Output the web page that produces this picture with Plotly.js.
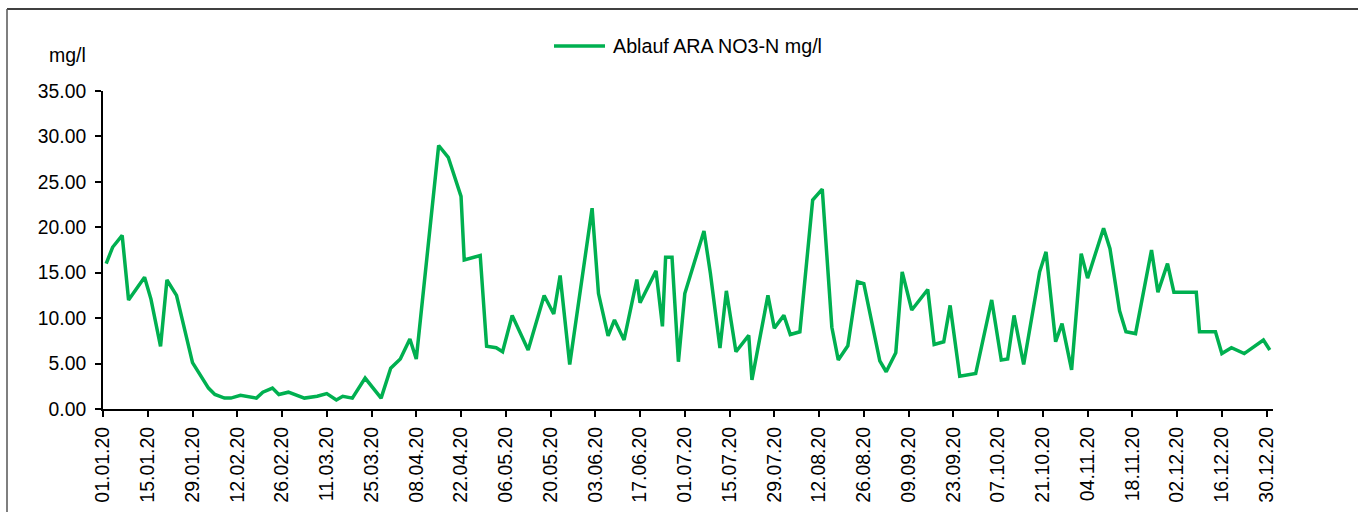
<!DOCTYPE html>
<html>
<head>
<meta charset="utf-8">
<script src="https://cdn.plot.ly/plotly-3.0.1.min.js"></script>
<style>
html,body{margin:0;padding:0;background:#fff;}
#chart{width:1358px;height:512px;}
</style>
</head>
<body>
<div id="chart"></div>
<script>
// Sampling dates (2020)
const dates = [
 "2020-01-02","2020-01-04","2020-01-07","2020-01-09","2020-01-14","2020-01-16","2020-01-19","2020-01-21","2020-01-24","2020-01-29",
 "2020-02-03","2020-02-05","2020-02-08","2020-02-10","2020-02-13","2020-02-18","2020-02-20","2020-02-23","2020-02-25","2020-02-28",
 "2020-03-04","2020-03-08","2020-03-11","2020-03-14","2020-03-16","2020-03-19","2020-03-23","2020-03-28","2020-03-31",
 "2020-04-03","2020-04-06","2020-04-08","2020-04-15","2020-04-18","2020-04-22","2020-04-23","2020-04-28","2020-04-30",
 "2020-05-03","2020-05-05","2020-05-08","2020-05-13","2020-05-18","2020-05-21","2020-05-23","2020-05-26",
 "2020-06-02","2020-06-04","2020-06-07","2020-06-09","2020-06-12","2020-06-16","2020-06-17","2020-06-22","2020-06-24","2020-06-25","2020-06-27","2020-06-29",
 "2020-07-01","2020-07-07","2020-07-09","2020-07-12","2020-07-14","2020-07-17","2020-07-21","2020-07-22","2020-07-27","2020-07-29",
 "2020-08-01","2020-08-03","2020-08-06","2020-08-10","2020-08-13","2020-08-16","2020-08-18","2020-08-21","2020-08-24","2020-08-26","2020-08-31",
 "2020-09-02","2020-09-05","2020-09-07","2020-09-10","2020-09-15","2020-09-17","2020-09-20","2020-09-22","2020-09-25","2020-09-30",
 "2020-10-05","2020-10-08","2020-10-10","2020-10-12","2020-10-15","2020-10-20","2020-10-22","2020-10-25","2020-10-27","2020-10-30",
 "2020-11-02","2020-11-04","2020-11-09","2020-11-11","2020-11-14","2020-11-16","2020-11-19","2020-11-24","2020-11-26","2020-11-29",
 "2020-12-01","2020-12-08","2020-12-09","2020-12-14","2020-12-16","2020-12-19","2020-12-23","2020-12-29","2020-12-31"
];
// Ablauf ARA NO3-N (mg/l)
const no3n = [
 16.0,17.8,19.1,12.0,14.5,12.1,6.9,14.2,12.5,5.1,
 2.3,1.6,1.2,1.2,1.5,1.2,1.85,2.3,1.6,1.85,
 1.2,1.4,1.7,1.0,1.4,1.2,3.4,1.2,4.5,
 5.5,7.7,5.5,29.0,27.7,23.4,16.4,16.9,6.9,
 6.75,6.3,10.3,6.5,12.5,10.45,14.7,4.9,
 22.1,12.7,8.05,9.8,7.6,14.25,11.7,15.2,9.1,16.7,16.7,5.2,
 12.7,19.6,14.95,6.7,13.0,6.3,8.1,3.2,12.5,8.9,
 10.3,8.2,8.5,23.0,24.2,9.0,5.4,6.95,14.0,13.8,5.3,
 4.1,6.2,15.1,10.9,13.15,7.1,7.4,11.4,3.6,3.9,
 12.0,5.4,5.5,10.3,4.9,15.1,17.3,7.4,9.4,4.3,
 17.1,14.4,19.9,17.65,10.8,8.5,8.3,17.5,12.85,16.0,
 12.85,12.85,8.5,8.5,6.1,6.75,6.1,7.6,6.5
];
const seriesName = "Ablauf ARA NO3-N mg/l";
const yUnit = "mg/l";
const yTicks = [0,5,10,15,20,25,30,35];

const W = 1358, H = 512;
const L = 103, R = 85, T = 91, B = 103;
const pw = W - L - R, ph = H - T - B;
const px = v => (v - L) / pw;
const py = v => (H - B - v) / ph;

const FONT = "Liberation Sans, Arial, sans-serif";
const GREEN = "#00B050";

const trace = {
  x: dates, y: no3n, type: "scatter", mode: "lines", name: seriesName,
  line: {color: GREEN, width: 3.5}, showlegend: false, hoverinfo: "x+y"
};

const layout = {
  width: W, height: H,
  margin: {l: L, r: R, t: T, b: B, pad: 0},
  paper_bgcolor: "#fff", plot_bgcolor: "#fff",
  font: {family: FONT, size: 19, color: "#000"},
  showlegend: false,
  xaxis: {
    type: "date",
    range: ["2020-01-01", "2021-01-01"],
    tick0: "2020-01-01", dtick: 14 * 86400000,
    tickformat: "%d.%m.%y", tickangle: -90,
    ticks: "outside", ticklen: 6, tickwidth: 2, tickcolor: "#000",
    showline: true, linecolor: "#000", linewidth: 2,
    showgrid: false, zeroline: false,
    ticklabelstandoff: 2,
    tickfont: {family: FONT, size: 19.5, color: "#000"}
  },
  yaxis: {
    range: [0, 35],
    tickvals: yTicks, ticktext: yTicks.map(v => v.toFixed(2)),
    ticks: "outside", ticklen: 6, tickwidth: 2, tickcolor: "#000",
    showline: true, linecolor: "#000", linewidth: 2,
    showgrid: false, zeroline: false,
    ticklabelstandoff: 5,
    tickfont: {family: FONT, size: 19.3, color: "#000"}
  },
  shapes: [
    {type: "line", xref: "paper", yref: "paper", x0: px(7), x1: px(1370), y0: py(9), y1: py(9), line: {color: "#000", width: 1.5}},
    {type: "line", xref: "paper", yref: "paper", x0: px(7), x1: px(7), y0: py(9), y1: py(530), line: {color: "#555", width: 1.5}},
    {type: "line", xref: "paper", yref: "paper", x0: px(554), x1: px(605), y0: py(46), y1: py(46), line: {color: GREEN, width: 3.5}}
  ],
  annotations: [
    {xref: "paper", yref: "paper", x: px(611), y: py(46), xanchor: "left", yanchor: "middle", showarrow: false,
     text: seriesName, font: {family: FONT, size: 19.7, color: "#000"}},
    {xref: "paper", yref: "paper", x: px(88), y: py(55), xanchor: "right", yanchor: "middle", showarrow: false,
     text: yUnit, font: {family: FONT, size: 19.5, color: "#000"}}
  ]
};

Plotly.newPlot("chart", [trace], layout, {displayModeBar: false, staticPlot: true});
</script>
</body>
</html>
